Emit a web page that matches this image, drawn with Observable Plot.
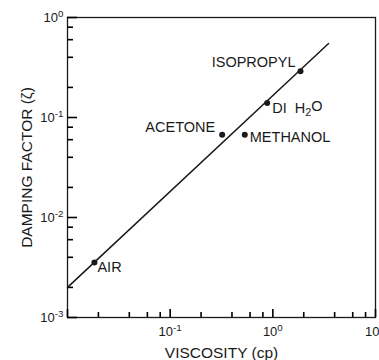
<!DOCTYPE html>
<html>
<head>
<meta charset="utf-8">
<script src="https://cdn.jsdelivr.net/npm/d3@7"></script>
<script src="https://cdn.jsdelivr.net/npm/@observablehq/plot@0.6"></script>
<style>
  html, body { margin: 0; padding: 0; background: #fff; }
  #chart svg { display: block; font-family: "Liberation Sans", Arial, sans-serif; }
</style>
</head>
<body>
<div id="chart"></div>
<script>
// Data (viscosity in cp, damping factor ζ)
const fluids = ["AIR", "ACETONE", "METHANOL", "DI H₂O", "ISOPROPYL"];
const viscosity = [0.0183, 0.321, 0.533, 0.881, 1.86];
const damping = [0.00355, 0.0671, 0.0671, 0.140, 0.290];

// Fitted straight line (log-log)
const fitViscosity = [0.01, 3.49];
const fitDamping = [0.0020, 0.55];

// Ticks
const xMajor = [0.01, 0.1, 1, 10];
const xMajorLabels = ["", "10⁻¹", "10⁰", "10"];
const yMajor = [0.001, 0.01, 0.1, 1];
const yMajorLabels = ["10⁻³", "10⁻²", "10⁻¹", "10⁰"];
const minorMultipliers = [2, 4, 6, 8];
const decades = [0.001, 0.01, 0.1, 1];

const points = fluids.map((name, i) => ({name, x: viscosity[i], y: damping[i]}));
const fit = fitViscosity.map((x, i) => ({x, y: fitDamping[i]}));
const xMinor = decades.slice(1).flatMap(d => minorMultipliers.map(m => m * d));
const yMinor = decades.slice(0, 3).flatMap(d => minorMultipliers.map(m => m * d));
const xLabel = v => xMajorLabels[xMajor.findIndex(t => Math.abs(t - v) / t < 1e-6)];
const yLabel = v => yMajorLabels[yMajor.findIndex(t => Math.abs(t - v) / t < 1e-6)];

// label placement (style)
const labelStyle = {
  "AIR": {anchor: "start", dx: 3, dy: 5},
  "ACETONE": {anchor: "end", dx: -7, dy: -7},
  "METHANOL": {anchor: "start", dx: 5, dy: 3},
  "DI H₂O": {anchor: "start", dx: 5, dy: 5},
  "ISOPROPYL": {anchor: "end", dx: -5, dy: -9}
};

const ink = "#1a1a1a";
const frameW = 308, frameH = 300;
const chart = Plot.plot({
  width: 379, height: 360, marginLeft: 67, marginRight: 4, marginTop: 17, marginBottom: 43,
  style: {fontSize: "13px", color: ink, background: "#fff"},
  x: {type: "log", domain: [0.01, 10]},
  y: {type: "log", domain: [0.001, 1]},
  marks: [
    Plot.frame({stroke: ink, strokeWidth: 1.3}),
    // inward ticks
    Plot.tickX(xMajor, {x: d => d, insetTop: frameH - 8, stroke: "#000", strokeWidth: 1.6}),
    Plot.tickX(xMinor, {x: d => d, insetTop: frameH - 5, stroke: "#000", strokeWidth: 1.6}),
    Plot.tickY(yMajor, {y: d => d, insetRight: frameW - 10, stroke: "#000", strokeWidth: 1.6}),
    Plot.tickY(yMinor, {y: d => d, insetRight: frameW - 6, stroke: "#000", strokeWidth: 1.6}),
    // axis labels and titles
    Plot.axisX({ticks: xMajor.slice(0, 3), tickSize: 0, tickPadding: 9, tickFormat: xLabel, fontSize: 13,
      label: "VISCOSITY (cp)", labelAnchor: "center", labelOffset: 40, labelArrow: "none"}),
    Plot.axisX({ticks: xMajor.slice(3), tickSize: 0, tickPadding: 9, tickFormat: xLabel, fontSize: 13,
      textAnchor: "end", dx: 4, label: null}),
    Plot.axisY({ticks: yMajor, tickSize: 0, tickPadding: 4, tickFormat: yLabel, fontSize: 13,
      label: "DAMPING FACTOR (ζ)", labelAnchor: "center", labelOffset: 47, labelArrow: "none"}),
    // fitted line
    Plot.line(fit, {x: "x", y: "y", stroke: ink, strokeWidth: 1.5}),
    // data points and labels
    Plot.dot(points, {x: "x", y: "y", r: 3, fill: ink, stroke: null}),
    ...points.map(p => Plot.text([p], {
      x: "x", y: "y", text: "name",
      textAnchor: labelStyle[p.name].anchor,
      dx: labelStyle[p.name].dx, dy: labelStyle[p.name].dy,
      fontSize: 14.5, fill: ink
    }))
  ]
});

// Typeset superscripts / subscripts as real text with tspans
const sup = {"⁻": "-", "⁰": "0", "¹": "1", "²": "2", "³": "3"};
d3.select(chart).selectAll("text").each(function () {
  const el = d3.select(this);
  if (this.querySelector("tspan")) return;
  const t = this.textContent;
  let m = t.match(/^10([⁻⁰¹²³]+)$/);
  if (m) {
    el.text("10");
    el.append("tspan").attr("dy", "-0.45em").attr("font-size", "0.75em")
      .text([...m[1]].map(c => sup[c]).join(""));
    return;
  }
  if (t === "DI H₂O") {
    el.text("DI  H");
    el.append("tspan").attr("dy", "0.3em").attr("font-size", "0.75em").text("2");
    el.append("tspan").attr("dy", "-0.3em").text("O");
  }
});
d3.select(chart).selectAll("text").filter(function () { return /VISCOSITY|DAMPING/.test(this.textContent); })
  .attr("font-size", 15.5);

document.getElementById("chart").appendChild(chart);
</script>
</body>
</html>
